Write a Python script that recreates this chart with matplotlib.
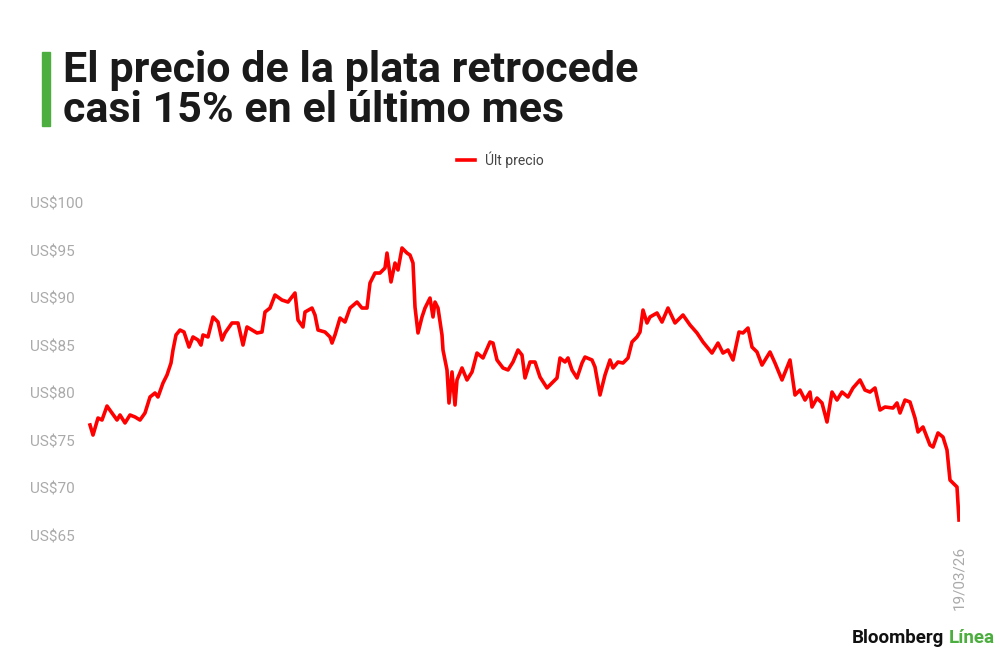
import matplotlib
matplotlib.use("Agg")
import matplotlib.pyplot as plt

# Intraday bars (index) and last price in US$ per ounce
bar_idx = [0, 3, 8, 12, 17, 22, 27, 30, 35, 40, 45, 50, 55, 60, 65, 68, 73, 77, 81, 83,
           86, 90, 94, 99, 103, 108, 111, 113, 118, 123, 128, 132, 135, 142, 148, 153, 157, 162, 167, 172,
           175, 180, 185, 192, 198, 205, 208, 213, 215, 222, 225, 228, 235, 240, 242, 245, 250, 255, 260, 267,
           272, 277, 280, 285, 290, 295, 297, 301, 305, 308, 312, 317, 320, 323, 325, 328, 332, 335, 340, 343,
           345, 348, 352, 353, 357, 359, 362, 365, 367, 372, 377, 382, 387, 393, 400, 403, 407, 413, 418, 423,
           428, 432, 435, 440, 445, 450, 457, 462, 467, 470, 475, 478, 482, 487, 492, 495, 502, 505, 510, 515,
           520, 523, 528, 533, 538, 542, 547, 550, 553, 557, 560, 567, 572, 578, 585, 593, 600, 607, 613, 622,
           628, 633, 638, 643, 649, 653, 658, 662, 667, 672, 680, 685, 692, 700, 705, 710, 715, 720, 722, 727,
           732, 737, 742, 747, 752, 758, 763, 770, 775, 780, 785, 790, 795, 803, 807, 810, 815, 820, 825, 828,
           833, 840, 843, 848, 853, 857, 860, 863, 867, 869]
ult_precio = [76.67, 75.61, 77.40, 77.19, 78.66, 77.93, 77.19, 77.72, 76.88, 77.72, 77.51, 77.19, 77.93, 79.61, 80.03, 79.61, 81.08, 81.92, 83.18, 84.55,
              86.13, 86.65, 86.44, 84.86, 85.92, 85.60, 85.07, 86.13, 85.92, 88.02, 87.49, 85.60, 86.34, 87.39, 87.39, 85.07, 86.97, 86.65, 86.34, 86.44,
              88.54, 88.96, 90.33, 89.80, 89.59, 90.54, 87.70, 86.97, 88.54, 88.96, 88.23, 86.65, 86.44, 85.92, 85.28, 86.13, 87.91, 87.49, 88.96, 89.59,
              88.96, 88.96, 91.59, 92.64, 92.64, 93.17, 94.74, 91.70, 93.69, 92.96, 95.27, 94.74, 94.53, 93.69, 89.07, 86.34, 88.02, 88.96, 90.01, 88.02,
              89.59, 88.96, 86.13, 84.55, 82.45, 78.98, 82.24, 78.77, 81.40, 82.66, 81.40, 82.24, 84.23, 83.71, 85.39, 85.28, 83.50, 82.66, 82.45, 83.29,
              84.55, 84.02, 81.61, 83.29, 83.29, 81.71, 80.56, 81.08, 81.61, 83.71, 83.29, 83.71, 82.45, 81.61, 83.18, 83.81, 83.50, 82.76, 79.82, 81.92,
              83.50, 82.66, 83.29, 83.18, 83.71, 85.39, 85.92, 86.44, 88.75, 87.39, 88.02, 88.44, 87.49, 88.96, 87.39, 88.23, 87.18, 86.34, 85.39, 84.23,
              85.28, 84.23, 84.55, 83.50, 86.44, 86.34, 86.86, 84.86, 84.34, 82.97, 84.34, 83.18, 81.40, 83.50, 79.82, 80.34, 79.29, 80.13, 78.56, 79.50,
              78.98, 76.98, 80.13, 79.29, 80.13, 79.61, 80.56, 81.40, 80.34, 80.13, 80.56, 78.24, 78.56, 78.45, 78.98, 77.93, 79.29, 79.08, 77.40, 75.93,
              76.46, 74.56, 74.35, 75.83, 75.40, 74.04, 70.88, 70.57, 70.15, 66.68]

y_ticks = [65, 70, 75, 80, 85, 90, 95, 100]
y_labels = ["US$" + str(v) for v in y_ticks]
x_tick_label = "19/03/26"

plt.rcParams['font.family'] = ['Roboto', 'DejaVu Sans']

fig = plt.figure(figsize=(10, 6.6), dpi=100)
fig.patch.set_facecolor('white')

# Axes placed so that 100 -> 203px and 65 -> 536px from the top
ax = fig.add_axes([0.03, 124 / 660, 0.93, 333 / 660])
ax.plot(bar_idx, ult_precio, color='#ff0000', linewidth=2.6, solid_joinstyle='round',
        label='Últ precio')
ax.set_xlim(-60, 870)
ax.set_ylim(65, 100)

ax.set_yticks(y_ticks)
ax.set_yticklabels(y_labels, color='#aaaaaa', fontsize=11, ha='left')
ax.tick_params(axis='y', length=0, pad=0)

ax.set_xticks([bar_idx[-1]])
ax.set_xticklabels([x_tick_label], rotation=90, color='#aaaaaa', fontsize=11, va='top')
ax.tick_params(axis='x', length=0, pad=7)

for s in ax.spines.values():
    s.set_visible(False)

# Legend
leg = fig.legend(loc='center', bbox_to_anchor=(0.5, 1 - 160 / 660), frameon=False,
                 fontsize=10, handlelength=1.3, handletextpad=0.7)
for t in leg.get_texts():
    t.set_color('#444444')

# Title with green accent bar
fig.patches.append(plt.Rectangle((42 / 1000, 1 - 126 / 660), 8 / 1000, 74 / 660,
                                 transform=fig.transFigure, color='#4cae3f'))
fig.text(0.063, 1 - 50 / 660, "El precio de la plata retrocede\ncasi 15% en el último mes",
         fontsize=31, fontweight='bold', color='#1a1a1a', va='top', ha='left', linespacing=0.98)

# Logo
t2 = fig.text(0.995, 1 - 638 / 660, "Línea", fontsize=13.5, fontweight='bold', color='#4cae3f',
              ha='right', va='center')
fig.canvas.draw()
bb = t2.get_window_extent()
fig.text((bb.x0 - 5) / 1000, 1 - 638 / 660, "Bloomberg", fontsize=13.5, fontweight='bold',
         color='#111111', ha='right', va='center')

fig.savefig('out.png', dpi=100, facecolor='white')
